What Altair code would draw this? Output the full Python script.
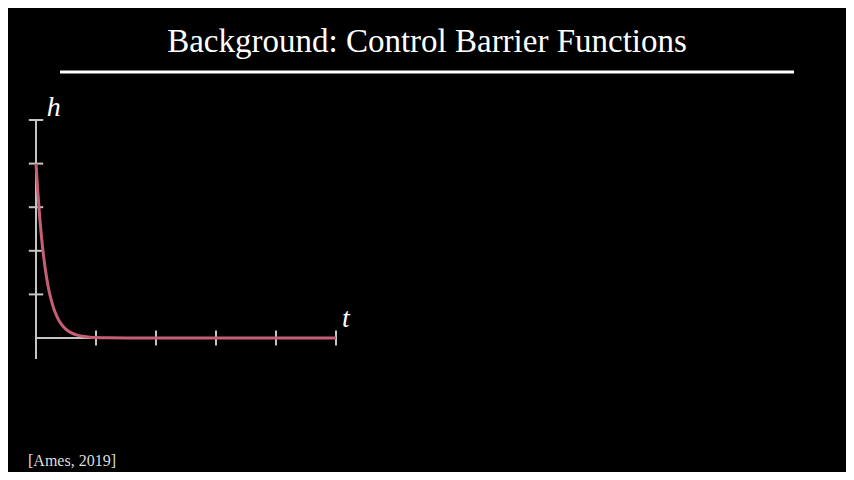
import altair as alt
import pandas as pd

# ── Data ─────────────────────────────────────────────────────────────────────
t_vals = [0.0, 0.03, 0.06, 0.1, 0.15, 0.2, 0.25, 0.3, 0.35, 0.4, 0.5, 0.6,
          0.7, 0.8, 0.9, 1.0, 1.2, 1.5, 2.0, 3.0, 4.0, 5.0]
h_vals = [4.0, 3.35, 2.8, 2.2, 1.63, 1.2, 0.89, 0.66, 0.49, 0.36, 0.2, 0.11,
          0.06, 0.033, 0.018, 0.01, 0.003, 0.0, 0.0, 0.0, 0.0, 0.0]
x_ticks = [1, 2, 3, 4, 5]
y_ticks = [1, 2, 3, 4, 5]
title_text = "Background: Control Barrier Functions"
cite_text = "[Ames, 2019]"

# ── Canvas geometry (plot area = whole slide) ────────────────────────────────
W, H = 838, 464
px_t, px_h = 60.0, 43.6          # pixels per unit on each axis
x0_px, y0_px = 28.0, 330.0       # origin inside the plot area
x_dom = [-x0_px / px_t, (W - x0_px) / px_t]
y_dom = [-(H - y0_px) / px_h, y0_px / px_h]

xs = alt.Scale(domain=x_dom, nice=False, zero=False)
ys = alt.Scale(domain=y_dom, nice=False, zero=False)

FONT = "Liberation Serif"
AXIS_COL = "#c4c4c4"
CURVE_COL = "#c55f73"

curve_df = pd.DataFrame({"t": t_vals, "h": h_vals})
axes_df = pd.DataFrame({
    "t": [0, 0], "t2": [0, 5], "h": [-0.48, 0], "h2": [5, 0]
})
xt_df = pd.DataFrame({"t": x_ticks, "h": [-0.17] * 5, "h2": [0.17] * 5})
yt_df = pd.DataFrame({"t": [-0.12] * 5, "t2": [0.12] * 5, "h": y_ticks})
lab_df = pd.DataFrame({"t": [0.18, 5.1], "h": [5.1, 0.25], "txt": ["h", "t"]})

axes = alt.Chart(axes_df).mark_rule(color=AXIS_COL, strokeWidth=2).encode(
    x=alt.X("t:Q", scale=xs, axis=None), x2="t2:Q",
    y=alt.Y("h:Q", scale=ys, axis=None), y2="h2:Q",
)
xticks = alt.Chart(xt_df).mark_rule(color=AXIS_COL, strokeWidth=2).encode(
    x=alt.X("t:Q", scale=xs, axis=None),
    y=alt.Y("h:Q", scale=ys, axis=None), y2="h2:Q",
)
yticks = alt.Chart(yt_df).mark_rule(color=AXIS_COL, strokeWidth=2).encode(
    x=alt.X("t:Q", scale=xs, axis=None), x2="t2:Q",
    y=alt.Y("h:Q", scale=ys, axis=None),
)
curve = alt.Chart(curve_df).mark_line(
    color=CURVE_COL, strokeWidth=3, interpolate="monotone"
).encode(
    x=alt.X("t:Q", scale=xs, axis=None),
    y=alt.Y("h:Q", scale=ys, axis=None),
)
labels = alt.Chart(lab_df).mark_text(
    font=FONT, fontSize=28, fontStyle="italic", color="white",
    align="left", baseline="alphabetic"
).encode(
    x=alt.X("t:Q", scale=xs, axis=None),
    y=alt.Y("h:Q", scale=ys, axis=None),
    text="txt:N",
)

# ── Slide decorations ────────────────────────────────────────────────────────
title = alt.Chart(pd.DataFrame({"s": [title_text]})).mark_text(
    font=FONT, fontSize=33, color="white", align="center", baseline="alphabetic"
).encode(x=alt.value(419), y=alt.value(44), text="s:N")
underline = alt.Chart(pd.DataFrame({"a": [0]})).mark_rule(
    color="white", strokeWidth=3
).encode(x=alt.value(52), x2=alt.value(786), y=alt.value(64))
cite = alt.Chart(pd.DataFrame({"s": [cite_text]})).mark_text(
    font=FONT, fontSize=16, color="#dddddd", align="left", baseline="alphabetic"
).encode(x=alt.value(20), y=alt.value(458), text="s:N")

chart = alt.layer(
    axes, xticks, yticks, curve, labels, title, underline, cite
).properties(
    width=W, height=H, autosize=alt.AutoSizeParams(type="none"), padding=0
).configure(
    background="black"
).configure_view(
    strokeWidth=0
)

chart.save("out.html", embed_options={"renderer": "svg", "actions": False})
